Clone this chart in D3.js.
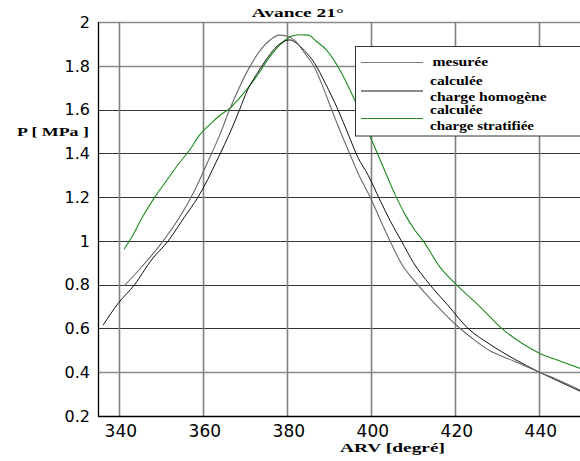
<!DOCTYPE html>
<html><head><meta charset="utf-8">
<script src="https://cdn.jsdelivr.net/npm/d3@7"></script>
<style>body{margin:0;background:#fff}svg{display:block}</style>
</head><body>
<script>
const xTicks = [340, 360, 380, 400, 420, 440];
const yTicks = [0.2, 0.4, 0.6, 0.8, 1, 1.2, 1.4, 1.6, 1.8, 2];
const yTickLabels = ["0.2","0.4","0.6","0.8","1","1.2","1.4","1.6","1.8","2"];

const seriesNames = ["mesurée", "calculée\ncharge homogène", "calculée\ncharge stratifiée"];

// gray smooth curve (legend: mesurée)
const grayX = [341.1,345,350,355,358,361,364,366,368.5,371,373.5,376,378,380,382,384,386.5,388.5,390.5,393,395,396.8,400,402,404.4,407,411,414,417,420.5,424,428,434,440,445,450];
const grayY = [0.794,0.875,0.99,1.13,1.235,1.36,1.49,1.59,1.70,1.795,1.87,1.92,1.94,1.935,1.91,1.86,1.79,1.70,1.60,1.48,1.39,1.309,1.187,1.10,1.0,0.90,0.80,0.735,0.675,0.61,0.555,0.50,0.45,0.40,0.36,0.315];

// black curve (legend: calculée charge homogène)
const blackX = [336.1,339.7,343.6,347.6,351.6,355.5,358.7,361,363,365,367,368.6,370.5,372.6,375,377,379,380.6,382,384,386.5,389,392,394.4,396.8,399.2,402,404.5,407.1,410,413.9,418,423,428,434,440,445,450];
const blackY = [0.615,0.715,0.80,0.913,1.0,1.11,1.2,1.28,1.36,1.44,1.525,1.6,1.69,1.76,1.83,1.88,1.91,1.918,1.905,1.87,1.81,1.72,1.60,1.49,1.38,1.30,1.187,1.09,1.0,0.9,0.8,0.71,0.6,0.53,0.46,0.40,0.355,0.31];

// green curve (legend: calculée charge stratifiée)
const greenX = [341.1,343,345.5,348.4,351,354,356.7,359.1,362,364,366.3,368,370.2,372.6,375.8,379,381.3,383,384.9,387,389.3,392.5,395.6,399.6,402.5,405.9,408,410.3,412.3,416.3,420.2,425.8,431,436,440.1,445,450];
const greenY = [0.962,1.02,1.11,1.2,1.27,1.35,1.415,1.484,1.54,1.575,1.606,1.64,1.69,1.75,1.842,1.91,1.937,1.942,1.94,1.91,1.872,1.78,1.66,1.48,1.35,1.20,1.12,1.05,1.0,0.88,0.80,0.70,0.60,0.53,0.486,0.45,0.415];

const W = 580, H = 461;
const svg = d3.select("body").append("svg").attr("width", W).attr("height", H);

const x = d3.scaleLinear().domain([335, 450]).range([98.5, 581.5]);
const y = d3.scaleLinear().domain([0.2, 2]).range([416, 22]);

// horizontal grid
const gy = svg.append("g");
yTicks.forEach(v => {
  const light = (v === 2 || v === 1.8 || v === 0.4);
  gy.append("line").attr("x1", x(335)).attr("x2", W)
    .attr("y1", Math.round(y(v)) + 0.5).attr("y2", Math.round(y(v)) + 0.5)
    .attr("stroke", light ? "#8a8a8a" : "#333").attr("stroke-width", light ? 1.4 : 1);
});
// vertical grid
xTicks.forEach(v => {
  gy.append("line").attr("x1", x(v)).attr("x2", x(v)).attr("y1", y(2)).attr("y2", y(0.2))
    .attr("stroke", "#808080").attr("stroke-width", 1.6);
});

// axes lines
svg.append("line").attr("x1", 98.5).attr("x2", 98.5).attr("y1", y(2)).attr("y2", y(0.2) + 0.5)
  .attr("stroke", "#000").attr("stroke-width", 1.3);
svg.append("line").attr("x1", 98).attr("x2", W).attr("y1", 416.5).attr("y2", 416.5)
  .attr("stroke", "#000").attr("stroke-width", 1.5);

// tick labels
svg.append("g").selectAll("text").data(yTicks).join("text")
  .attr("x", 90).attr("y", d => y(d) + 5.8).attr("text-anchor", "end")
  .attr("font-family", "DejaVu Sans").attr("font-size", 16).attr("fill", "#000")
  .text((d, i) => yTickLabels[i]);
svg.append("g").selectAll("text").data(xTicks).join("text")
  .attr("x", d => x(d) + 1.3).attr("y", 437).attr("text-anchor", "middle")
  .attr("font-family", "DejaVu Sans").attr("font-size", 17).attr("fill", "#000")
  .text(d => d);

// curves
const line = d3.line().x(d => x(d[0])).y(d => y(d[1])).curve(d3.curveMonotoneX);
const zipXY = (a, b) => a.map((v, i) => [v, b[i]]);
svg.append("path").datum(zipXY(greenX, greenY)).attr("d", line)
  .attr("fill", "none").attr("stroke", "#1f8a1f").attr("stroke-width", 1.1);
svg.append("path").datum(zipXY(blackX, blackY)).attr("d", line)
  .attr("fill", "none").attr("stroke", "#111").attr("stroke-width", 1);
svg.append("path").datum(zipXY(grayX, grayY)).attr("d", line)
  .attr("fill", "none").attr("stroke", "#6a6a6a").attr("stroke-width", 1.1);

// legend
const lg = svg.append("g");
lg.append("rect").attr("x", 355.5).attr("y", 46.5).attr("width", 240).attr("height", 89.5)
  .attr("fill", "#fff").attr("stroke", "#333").attr("stroke-width", 1);
const legColors = ["#7a7a7a", "#111", "#1f8a1f"];
const legLineY = [62.5, 91, 118.5];
legColors.forEach((c, i) => {
  lg.append("line").attr("x1", 361).attr("x2", 423).attr("y1", legLineY[i]).attr("y2", legLineY[i])
    .attr("stroke", c).attr("stroke-width", 1.2);
});
const legTexts = [
  {t: "mesurée", x: 432.5, y: 66, w: 55.6},
  {t: "calculée", x: 430, y: 85, w: 52.7},
  {t: "charge homogène", x: 430, y: 100.7, w: 116.7},
  {t: "calculée", x: 430, y: 113.5, w: 52.7},
  {t: "charge stratifiée", x: 430, y: 130, w: 104}
];
legTexts.forEach(o => {
  lg.append("text").attr("x", o.x).attr("y", o.y)
    .attr("font-family", "Liberation Serif").attr("font-weight", "bold").attr("font-size", 12.5)
    .attr("textLength", o.w).attr("lengthAdjust", "spacingAndGlyphs").text(o.t);
});

// title and axis labels
svg.append("text").attr("x", 251.7).attr("y", 17)
  .attr("font-family", "Liberation Serif").attr("font-weight", "bold").attr("font-size", 13)
  .attr("textLength", 92).attr("lengthAdjust", "spacingAndGlyphs").text("Avance 21°");
svg.append("text").attr("x", 340).attr("y", 452)
  .attr("font-family", "Liberation Serif").attr("font-weight", "bold").attr("font-size", 13)
  .attr("textLength", 105).attr("lengthAdjust", "spacingAndGlyphs").text("ARV  [degré]");
svg.append("text").attr("x", 17).attr("y", 135.5)
  .attr("font-family", "Liberation Serif").attr("font-weight", "bold").attr("font-size", 12)
  .attr("textLength", 72).attr("lengthAdjust", "spacingAndGlyphs").text("P [ MPa ]");
</script>
</body></html>
